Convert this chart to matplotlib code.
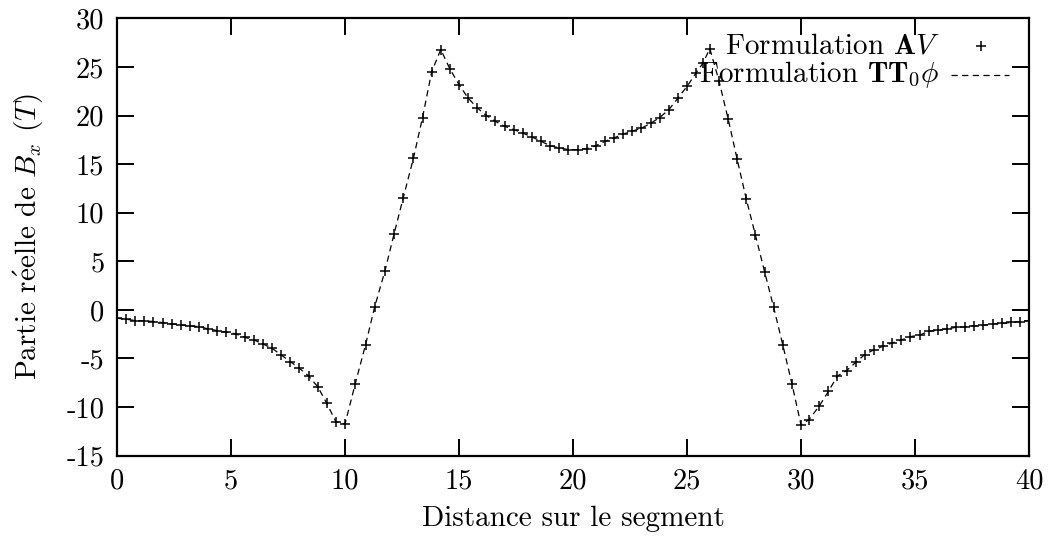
import matplotlib
matplotlib.use("Agg")
import matplotlib.pyplot as plt
from matplotlib.ticker import FuncFormatter

plt.rcParams["font.family"] = ["cmr10", "DejaVu Serif"]
plt.rcParams["mathtext.fontset"] = "cm"
plt.rcParams["axes.unicode_minus"] = False

# values (AV points; the TT0phi line follows them)
dist_left = [0.0, 0.4, 0.8, 1.2, 1.6, 2.0, 2.4, 2.8, 3.2, 3.6, 4.0, 4.4, 4.8,
             5.2, 5.6, 6.0, 6.4, 6.8, 7.2, 7.6, 8.0, 8.4, 8.8, 9.2, 9.6, 10.0]
bx_left = [-0.86, -0.96, -1.10, -1.13, -1.20, -1.31, -1.44, -1.55, -1.65, -1.72,
           -1.96, -2.13, -2.30, -2.47, -2.82, -3.09, -3.51, -3.95, -4.64, -5.33,
           -6.01, -6.80, -7.90, -9.62, -11.51, -11.75]

dist_rise = [10.45, 10.9, 11.3, 11.75, 12.15, 12.55, 13.0, 13.4, 13.8, 14.2]
bx_rise = [-7.6, -3.6, 0.3, 4.0, 7.8, 11.5, 15.6, 19.8, 24.5, 26.8]

dist_mid = [14.6, 15.0, 15.4, 15.8, 16.2, 16.6, 17.0, 17.4, 17.8, 18.2, 18.6,
            19.0, 19.4, 19.8, 20.2, 20.6, 21.0, 21.4, 21.8, 22.2, 22.6, 23.0,
            23.4, 23.8, 24.2, 24.6, 25.0, 25.4, 25.7, 26.0]
bx_mid = [24.8, 23.2, 21.8, 20.8, 20.0, 19.4, 18.9, 18.56, 18.2, 17.8, 17.35,
          16.9, 16.67, 16.5, 16.5, 16.6, 16.9, 17.35, 17.7, 18.1, 18.4, 18.7,
          19.2, 19.8, 20.6, 21.8, 23.0, 24.4, 25.4, 26.9]

dist_fall = [26.4, 26.8, 27.2, 27.6, 28.0, 28.4, 28.8, 29.2, 29.6, 30.0]
bx_fall = [23.6, 19.7, 15.5, 11.4, 7.7, 3.95, 0.27, -3.6, -7.6, -11.85]

dist_right = [30.35, 30.8, 31.2, 31.6, 32.0, 32.4, 32.8, 33.2, 33.6, 34.0, 34.4,
              34.8, 35.2, 35.6, 36.0, 36.4, 36.8, 37.2, 37.6, 38.0, 38.4, 38.8,
              39.2, 39.6, 40.0]
bx_right = [-11.3, -9.9, -8.4, -6.8, -6.25, -5.4, -4.6, -4.1, -3.75, -3.4, -3.1,
            -2.75, -2.6, -2.2, -2.1, -1.95, -1.8, -1.75, -1.65, -1.6, -1.45, -1.4,
            -1.3, -1.2, -1.1]

distance = dist_left + dist_rise + dist_mid + dist_fall + dist_right
bx_av = bx_left + bx_rise + bx_mid + bx_fall + bx_right
bx_tt0 = list(bx_av)

x_ticks = [0, 5, 10, 15, 20, 25, 30, 35, 40]
y_ticks = [-15, -10, -5, 0, 5, 10, 15, 20, 25, 30]

fig = plt.figure(figsize=(10.58, 5.43), dpi=100)
ax = fig.add_axes([0.1106, 0.161, 0.862, 0.805])

ax.plot(distance, bx_tt0, color="black", lw=0.9, dashes=(5, 3.5))
ax.plot(distance, bx_av, ls="none", marker="+", ms=6.5, mew=1.1, color="black")

ax.set_xlim(0, 40)
ax.set_ylim(-15, 30)
ax.set_xticks(x_ticks)
ax.set_yticks(y_ticks)
fmt = FuncFormatter(lambda v, pos: "%d" % v)
ax.xaxis.set_major_formatter(fmt)
ax.yaxis.set_major_formatter(fmt)
ax.tick_params(direction="in", length=12, width=1.4, top=True, right=True,
               labelsize=20.5, pad=9)
for sp in ax.spines.values():
    sp.set_linewidth(1.6)

ax.set_xlabel("Distance sur le segment", fontsize=21, labelpad=8)
ax.set_ylabel("Partie r$\\mathrm{\\acute{e}}$elle de $B_x$ $(T)$", fontsize=21,
              labelpad=15)

# gnuplot style key: right aligned text, sample on the right
ax.text(0.902, 0.937, "Formulation $\\mathbf{A}V$", transform=ax.transAxes,
        ha="right", va="center", fontsize=21)
ax.text(0.902, 0.871, "Formulation $\\mathbf{TT}_0\\phi$", transform=ax.transAxes,
        ha="right", va="center", fontsize=21)
ax.plot([0.947], [0.937], transform=ax.transAxes, ls="none", marker="+",
        ms=6.5, mew=1.1, color="black")
ax.plot([0.914, 0.978], [0.871, 0.871], transform=ax.transAxes, color="black",
        lw=0.9, dashes=(5, 3.5))

fig.savefig("out.png", dpi=100)
